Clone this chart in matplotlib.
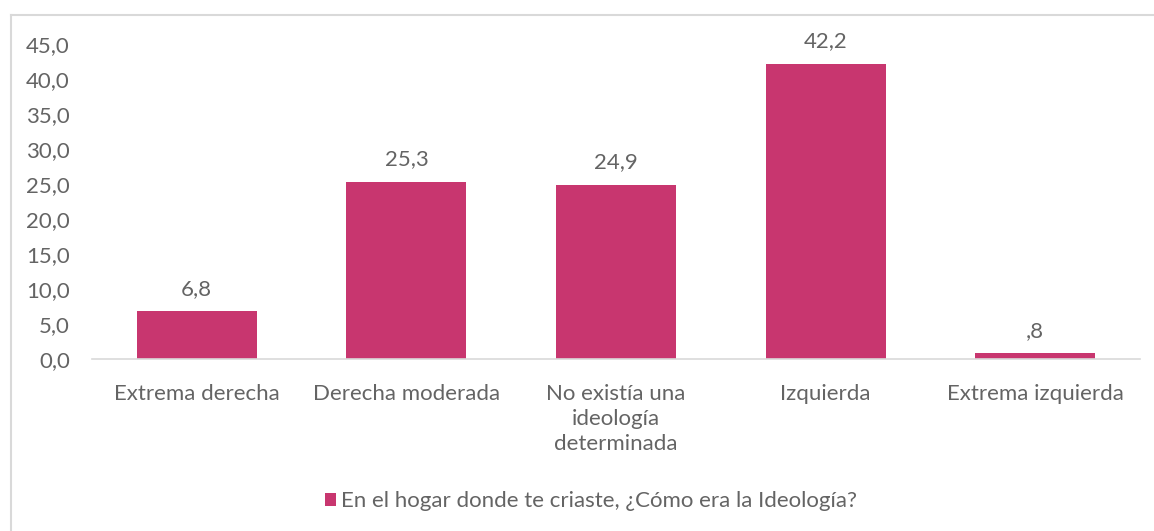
import matplotlib.pyplot as plt
from matplotlib.lines import Line2D
from matplotlib.patches import Patch

plt.rcParams['font.family'] = ['Lato', 'DejaVu Sans']

# Data
categories = ['Extrema derecha', 'Derecha moderada', 'No existía una\nideología\ndeterminada',
              'Izquierda', 'Extrema izquierda']
values = [6.8, 25.3, 24.9, 42.2, 0.8]
series_name = 'En el hogar donde te criaste, ¿Cómo era la Ideología?'
yticks = [0, 5, 10, 15, 20, 25, 30, 35, 40, 45]

bar_color = '#C8366F'
text_color = '#646464'


def fmt(v):
    s = f'{v:.1f}'.replace('.', ',')
    if s.startswith('0,') and v != 0:
        s = s[1:]
    return s


fig = plt.figure(figsize=(11.54, 5.31), dpi=100)
ax = fig.add_axes([0.0797, 0.3239, 0.9082, 0.5932])

x = range(len(categories))
bars = ax.bar(x, values, width=0.573, color=bar_color, zorder=2)

for b, v in zip(bars, values):
    ax.annotate(fmt(v), (b.get_x() + b.get_width() / 2, v), xytext=(0, 9),
                textcoords='offset points', ha='center', va='bottom',
                fontsize=16, color=text_color)

ax.set_xlim(-0.5, len(categories) - 0.5)
ax.set_ylim(0, 45)
ax.set_yticks(yticks)
ax.set_yticklabels([fmt(t) if t else '0,0' for t in yticks])
ax.set_xticks(list(x))
ax.set_xticklabels(categories, linespacing=1.32)
ax.tick_params(axis='y', length=0, pad=16, labelsize=16, labelcolor=text_color)
ax.tick_params(axis='x', length=0, pad=18, labelsize=16, labelcolor=text_color)

for side in ['top', 'right', 'left']:
    ax.spines[side].set_visible(False)
ax.spines['bottom'].set_color('#D9D9D9')
ax.spines['bottom'].set_linewidth(1.2)

handle = Patch(facecolor=bar_color, edgecolor='none')
fig.legend([handle], [series_name], loc='center', bbox_to_anchor=(0.512, 0.056),
           frameon=False, fontsize=16, labelcolor=text_color,
           handlelength=0.5, handleheight=0.5, handletextpad=0.25)

# chart frame
fig.add_artist(Line2D([0.0095, 0.0095], [0.0, 0.971], color='#D9D9D9', lw=1.5))
fig.add_artist(Line2D([0.0095, 1.0], [0.971, 0.971], color='#D9D9D9', lw=1.5))

fig.savefig('out.png', dpi=100)
